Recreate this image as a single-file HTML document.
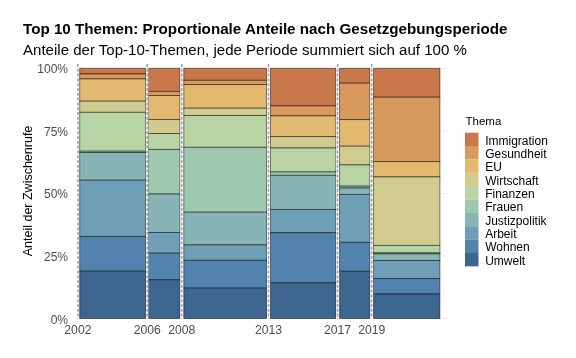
<!DOCTYPE html><html><head><meta charset="utf-8"><style>html,body{margin:0;padding:0;background:#fff;width:576px;height:358px;overflow:hidden}svg{display:block;will-change:transform;font-family:"Liberation Sans",sans-serif}</style></head><body>
<svg width="576" height="358" viewBox="0 0 576 358">
<rect width="576" height="358" fill="#fff"/>
<text x="23" y="34.3" font-size="15.2" font-weight="bold" fill="#000">Top 10 Themen: Proportionale Anteile nach Gesetzgebungsperiode</text>
<text x="23" y="54.9" font-size="15.05" fill="#000">Anteile der Top-10-Themen, jede Periode summiert sich auf 100 %</text>
<line x1="440" x2="447" y1="68.3" y2="68.3" stroke="#e6e6e6" stroke-width="0.8"/>
<line x1="440" x2="447" y1="130.9" y2="130.9" stroke="#e6e6e6" stroke-width="0.8"/>
<line x1="440" x2="447" y1="193.4" y2="193.4" stroke="#e6e6e6" stroke-width="0.8"/>
<line x1="440" x2="447" y1="256.0" y2="256.0" stroke="#e6e6e6" stroke-width="0.8"/>
<line x1="440" x2="447" y1="318.5" y2="318.5" stroke="#e6e6e6" stroke-width="0.8"/>
<rect x="79.7" y="68.3" width="66.0" height="5.7" fill="#c9784b" stroke="#000" stroke-opacity="0.55" stroke-width="0.9"/>
<rect x="79.7" y="74.0" width="66.0" height="4.9" fill="#d89a5c" stroke="#000" stroke-opacity="0.55" stroke-width="0.9"/>
<rect x="79.7" y="78.9" width="66.0" height="22.3" fill="#e2b96e" stroke="#000" stroke-opacity="0.55" stroke-width="0.9"/>
<rect x="79.7" y="101.2" width="66.0" height="11.1" fill="#d0cc90" stroke="#000" stroke-opacity="0.55" stroke-width="0.9"/>
<rect x="79.7" y="112.3" width="66.0" height="38.9" fill="#b8d3a4" stroke="#000" stroke-opacity="0.55" stroke-width="0.9"/>
<rect x="79.7" y="151.2" width="66.0" height="1.3" fill="#9fc9ae" stroke="#000" stroke-opacity="0.55" stroke-width="0.9"/>
<rect x="79.7" y="152.5" width="66.0" height="27.7" fill="#88b4b6" stroke="#000" stroke-opacity="0.55" stroke-width="0.9"/>
<rect x="79.7" y="180.2" width="66.0" height="56.2" fill="#6f9fb7" stroke="#000" stroke-opacity="0.55" stroke-width="0.9"/>
<rect x="79.7" y="236.4" width="66.0" height="34.8" fill="#5183ae" stroke="#000" stroke-opacity="0.55" stroke-width="0.9"/>
<rect x="79.7" y="271.2" width="66.0" height="47.3" fill="#3c658f" stroke="#000" stroke-opacity="0.55" stroke-width="0.9"/>
<rect x="148.5" y="68.3" width="31.4" height="23.1" fill="#c9784b" stroke="#000" stroke-opacity="0.55" stroke-width="0.9"/>
<rect x="148.5" y="91.4" width="31.4" height="4.1" fill="#d89a5c" stroke="#000" stroke-opacity="0.55" stroke-width="0.9"/>
<rect x="148.5" y="95.5" width="31.4" height="24.1" fill="#e2b96e" stroke="#000" stroke-opacity="0.55" stroke-width="0.9"/>
<rect x="148.5" y="119.6" width="31.4" height="13.9" fill="#d0cc90" stroke="#000" stroke-opacity="0.55" stroke-width="0.9"/>
<rect x="148.5" y="133.5" width="31.4" height="15.9" fill="#b8d3a4" stroke="#000" stroke-opacity="0.55" stroke-width="0.9"/>
<rect x="148.5" y="149.4" width="31.4" height="44.6" fill="#9fc9ae" stroke="#000" stroke-opacity="0.55" stroke-width="0.9"/>
<rect x="148.5" y="194.0" width="31.4" height="38.5" fill="#88b4b6" stroke="#000" stroke-opacity="0.55" stroke-width="0.9"/>
<rect x="148.5" y="232.5" width="31.4" height="20.7" fill="#6f9fb7" stroke="#000" stroke-opacity="0.55" stroke-width="0.9"/>
<rect x="148.5" y="253.2" width="31.4" height="26.6" fill="#5183ae" stroke="#000" stroke-opacity="0.55" stroke-width="0.9"/>
<rect x="148.5" y="279.8" width="31.4" height="38.7" fill="#3c658f" stroke="#000" stroke-opacity="0.55" stroke-width="0.9"/>
<rect x="183.8" y="68.3" width="82.8" height="12.0" fill="#c9784b" stroke="#000" stroke-opacity="0.55" stroke-width="0.9"/>
<rect x="183.8" y="80.3" width="82.8" height="4.2" fill="#d89a5c" stroke="#000" stroke-opacity="0.55" stroke-width="0.9"/>
<rect x="183.8" y="84.5" width="82.8" height="23.7" fill="#e2b96e" stroke="#000" stroke-opacity="0.55" stroke-width="0.9"/>
<rect x="183.8" y="108.2" width="82.8" height="7.3" fill="#d0cc90" stroke="#000" stroke-opacity="0.55" stroke-width="0.9"/>
<rect x="183.8" y="115.5" width="82.8" height="31.8" fill="#b8d3a4" stroke="#000" stroke-opacity="0.55" stroke-width="0.9"/>
<rect x="183.8" y="147.3" width="82.8" height="64.9" fill="#9fc9ae" stroke="#000" stroke-opacity="0.55" stroke-width="0.9"/>
<rect x="183.8" y="212.2" width="82.8" height="32.7" fill="#88b4b6" stroke="#000" stroke-opacity="0.55" stroke-width="0.9"/>
<rect x="183.8" y="244.9" width="82.8" height="15.4" fill="#6f9fb7" stroke="#000" stroke-opacity="0.55" stroke-width="0.9"/>
<rect x="183.8" y="260.3" width="82.8" height="27.8" fill="#5183ae" stroke="#000" stroke-opacity="0.55" stroke-width="0.9"/>
<rect x="183.8" y="288.1" width="82.8" height="30.4" fill="#3c658f" stroke="#000" stroke-opacity="0.55" stroke-width="0.9"/>
<rect x="270.5" y="68.3" width="65.4" height="37.6" fill="#c9784b" stroke="#000" stroke-opacity="0.55" stroke-width="0.9"/>
<rect x="270.5" y="105.9" width="65.4" height="10.0" fill="#d89a5c" stroke="#000" stroke-opacity="0.55" stroke-width="0.9"/>
<rect x="270.5" y="115.9" width="65.4" height="20.7" fill="#e2b96e" stroke="#000" stroke-opacity="0.55" stroke-width="0.9"/>
<rect x="270.5" y="136.6" width="65.4" height="11.4" fill="#d0cc90" stroke="#000" stroke-opacity="0.55" stroke-width="0.9"/>
<rect x="270.5" y="148.0" width="65.4" height="24.0" fill="#b8d3a4" stroke="#000" stroke-opacity="0.55" stroke-width="0.9"/>
<rect x="270.5" y="172.0" width="65.4" height="3.3" fill="#9fc9ae" stroke="#000" stroke-opacity="0.55" stroke-width="0.9"/>
<rect x="270.5" y="175.3" width="65.4" height="34.1" fill="#88b4b6" stroke="#000" stroke-opacity="0.55" stroke-width="0.9"/>
<rect x="270.5" y="209.4" width="65.4" height="23.3" fill="#6f9fb7" stroke="#000" stroke-opacity="0.55" stroke-width="0.9"/>
<rect x="270.5" y="232.7" width="65.4" height="50.1" fill="#5183ae" stroke="#000" stroke-opacity="0.55" stroke-width="0.9"/>
<rect x="270.5" y="282.8" width="65.4" height="35.7" fill="#3c658f" stroke="#000" stroke-opacity="0.55" stroke-width="0.9"/>
<rect x="339.6" y="68.3" width="30.3" height="14.9" fill="#c9784b" stroke="#000" stroke-opacity="0.55" stroke-width="0.9"/>
<rect x="339.6" y="83.2" width="30.3" height="36.4" fill="#d89a5c" stroke="#000" stroke-opacity="0.55" stroke-width="0.9"/>
<rect x="339.6" y="119.6" width="30.3" height="26.6" fill="#e2b96e" stroke="#000" stroke-opacity="0.55" stroke-width="0.9"/>
<rect x="339.6" y="146.2" width="30.3" height="18.7" fill="#d0cc90" stroke="#000" stroke-opacity="0.55" stroke-width="0.9"/>
<rect x="339.6" y="164.9" width="30.3" height="21.2" fill="#b8d3a4" stroke="#000" stroke-opacity="0.55" stroke-width="0.9"/>
<rect x="339.6" y="186.1" width="30.3" height="1.9" fill="#9fc9ae" stroke="#000" stroke-opacity="0.55" stroke-width="0.9"/>
<rect x="339.6" y="188.0" width="30.3" height="6.4" fill="#88b4b6" stroke="#000" stroke-opacity="0.55" stroke-width="0.9"/>
<rect x="339.6" y="194.4" width="30.3" height="47.9" fill="#6f9fb7" stroke="#000" stroke-opacity="0.55" stroke-width="0.9"/>
<rect x="339.6" y="242.3" width="30.3" height="29.0" fill="#5183ae" stroke="#000" stroke-opacity="0.55" stroke-width="0.9"/>
<rect x="339.6" y="271.3" width="30.3" height="47.2" fill="#3c658f" stroke="#000" stroke-opacity="0.55" stroke-width="0.9"/>
<rect x="373.6" y="68.3" width="66.3" height="28.9" fill="#c9784b" stroke="#000" stroke-opacity="0.55" stroke-width="0.9"/>
<rect x="373.6" y="97.2" width="66.3" height="64.4" fill="#d89a5c" stroke="#000" stroke-opacity="0.55" stroke-width="0.9"/>
<rect x="373.6" y="161.6" width="66.3" height="15.3" fill="#e2b96e" stroke="#000" stroke-opacity="0.55" stroke-width="0.9"/>
<rect x="373.6" y="176.9" width="66.3" height="68.5" fill="#d0cc90" stroke="#000" stroke-opacity="0.55" stroke-width="0.9"/>
<rect x="373.6" y="245.4" width="66.3" height="7.6" fill="#b8d3a4" stroke="#000" stroke-opacity="0.55" stroke-width="0.9"/>
<rect x="373.6" y="253.0" width="66.3" height="0.8" fill="#9fc9ae" stroke="#000" stroke-opacity="0.55" stroke-width="0.9"/>
<rect x="373.6" y="253.8" width="66.3" height="6.7" fill="#88b4b6" stroke="#000" stroke-opacity="0.55" stroke-width="0.9"/>
<rect x="373.6" y="260.5" width="66.3" height="18.1" fill="#6f9fb7" stroke="#000" stroke-opacity="0.55" stroke-width="0.9"/>
<rect x="373.6" y="278.6" width="66.3" height="15.4" fill="#5183ae" stroke="#000" stroke-opacity="0.55" stroke-width="0.9"/>
<rect x="373.6" y="294.0" width="66.3" height="24.5" fill="#3c658f" stroke="#000" stroke-opacity="0.55" stroke-width="0.9"/>
<line x1="77.9" x2="77.9" y1="64" y2="319" stroke="#fff" stroke-width="2.2"/>
<line x1="77.9" x2="77.9" y1="64" y2="319" stroke="#a0a0a0" stroke-width="1.5" stroke-dasharray="3,1.8"/>
<line x1="147.2" x2="147.2" y1="64" y2="319" stroke="#fff" stroke-width="2.2"/>
<line x1="147.2" x2="147.2" y1="64" y2="319" stroke="#a0a0a0" stroke-width="1.5" stroke-dasharray="3,1.8"/>
<line x1="181.8" x2="181.8" y1="64" y2="319" stroke="#fff" stroke-width="2.2"/>
<line x1="181.8" x2="181.8" y1="64" y2="319" stroke="#a0a0a0" stroke-width="1.5" stroke-dasharray="3,1.8"/>
<line x1="268.5" x2="268.5" y1="64" y2="319" stroke="#fff" stroke-width="2.2"/>
<line x1="268.5" x2="268.5" y1="64" y2="319" stroke="#a0a0a0" stroke-width="1.5" stroke-dasharray="3,1.8"/>
<line x1="337.6" x2="337.6" y1="64" y2="319" stroke="#fff" stroke-width="2.2"/>
<line x1="337.6" x2="337.6" y1="64" y2="319" stroke="#a0a0a0" stroke-width="1.5" stroke-dasharray="3,1.8"/>
<line x1="371.7" x2="371.7" y1="64" y2="319" stroke="#fff" stroke-width="2.2"/>
<line x1="371.7" x2="371.7" y1="64" y2="319" stroke="#a0a0a0" stroke-width="1.5" stroke-dasharray="3,1.8"/>
<text x="68" y="73.3" font-size="12" fill="#4d4d4d" text-anchor="end">100%</text>
<text x="68" y="135.9" font-size="12" fill="#4d4d4d" text-anchor="end">75%</text>
<text x="68" y="198.4" font-size="12" fill="#4d4d4d" text-anchor="end">50%</text>
<text x="68" y="261.0" font-size="12" fill="#4d4d4d" text-anchor="end">25%</text>
<text x="68" y="323.5" font-size="12" fill="#4d4d4d" text-anchor="end">0%</text>
<text x="77.9" y="333.6" font-size="12.2" fill="#4d4d4d" text-anchor="middle">2002</text>
<text x="147.2" y="333.6" font-size="12.2" fill="#4d4d4d" text-anchor="middle">2006</text>
<text x="181.8" y="333.6" font-size="12.2" fill="#4d4d4d" text-anchor="middle">2008</text>
<text x="268.5" y="333.6" font-size="12.2" fill="#4d4d4d" text-anchor="middle">2013</text>
<text x="337.6" y="333.6" font-size="12.2" fill="#4d4d4d" text-anchor="middle">2017</text>
<text x="371.7" y="333.6" font-size="12.2" fill="#4d4d4d" text-anchor="middle">2019</text>
<text transform="translate(31.8,191) rotate(-90)" font-size="12.5" fill="#000" text-anchor="middle">Anteil der Zwischenrufe</text>
<text x="465.5" y="125.4" font-size="11.5" fill="#000">Thema</text>
<rect x="465" y="132.70" width="13.5" height="13.41" fill="#c9784b"/>
<text x="485.2" y="144.60" font-size="12" fill="#000">Immigration</text>
<rect x="465" y="146.06" width="13.5" height="13.41" fill="#d89a5c"/>
<text x="485.2" y="157.96" font-size="12" fill="#000">Gesundheit</text>
<rect x="465" y="159.42" width="13.5" height="13.41" fill="#e2b96e"/>
<text x="485.2" y="171.32" font-size="12" fill="#000">EU</text>
<rect x="465" y="172.78" width="13.5" height="13.41" fill="#d0cc90"/>
<text x="485.2" y="184.68" font-size="12" fill="#000">Wirtschaft</text>
<rect x="465" y="186.14" width="13.5" height="13.41" fill="#b8d3a4"/>
<text x="485.2" y="198.04" font-size="12" fill="#000">Finanzen</text>
<rect x="465" y="199.50" width="13.5" height="13.41" fill="#9fc9ae"/>
<text x="485.2" y="211.40" font-size="12" fill="#000">Frauen</text>
<rect x="465" y="212.86" width="13.5" height="13.41" fill="#88b4b6"/>
<text x="485.2" y="224.76" font-size="12" fill="#000">Justizpolitik</text>
<rect x="465" y="226.22" width="13.5" height="13.41" fill="#6f9fb7"/>
<text x="485.2" y="238.12" font-size="12" fill="#000">Arbeit</text>
<rect x="465" y="239.58" width="13.5" height="13.41" fill="#5183ae"/>
<text x="485.2" y="251.48" font-size="12" fill="#000">Wohnen</text>
<rect x="465" y="252.94" width="13.5" height="13.41" fill="#3c658f"/>
<text x="485.2" y="264.84" font-size="12" fill="#000">Umwelt</text>
</svg></body></html>
